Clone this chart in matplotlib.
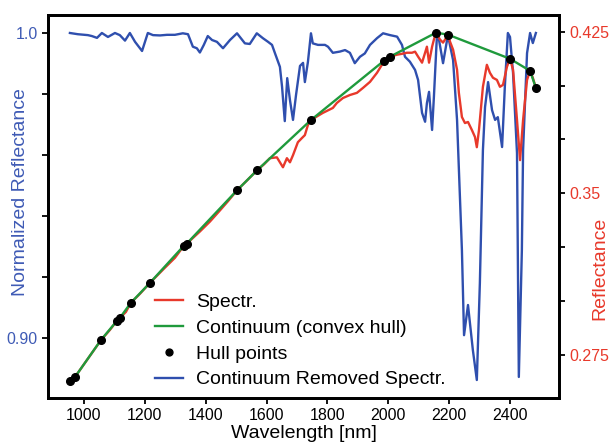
import matplotlib
matplotlib.use("Agg")
import matplotlib.pyplot as plt

# Continuum removed spectrum (left axis)
cr_wl = [954, 980, 1013, 1026, 1043, 1059, 1079, 1102, 1118, 1135, 1151, 1168, 1191, 1210,
         1227, 1250, 1273, 1299, 1325, 1342, 1358, 1371, 1381, 1394, 1407, 1421, 1437, 1457,
         1480, 1503, 1529, 1545, 1568, 1588, 1605, 1618, 1628, 1644, 1651, 1660, 1668, 1677,
         1687, 1697, 1710, 1720, 1726, 1736, 1746, 1752, 1769, 1792, 1802, 1818, 1841, 1858,
         1874, 1890, 1907, 1923, 1940, 1963, 1983, 2006, 2029, 2045, 2055, 2071, 2088, 2098,
         2111, 2121, 2127, 2134, 2144, 2150, 2160, 2163, 2180, 2196, 2213, 2226, 2242, 2249,
         2262, 2278, 2291, 2301, 2311, 2318, 2328, 2341, 2351, 2360, 2374, 2383, 2393, 2400,
         2410, 2423, 2429, 2439, 2443, 2456, 2466, 2475, 2485]
cr_val = [1.000, 0.9996, 0.9993, 0.9990, 0.9984, 1.000, 0.9987, 1.000, 0.9993, 0.9975, 1.000,
          0.9971, 0.9941, 1.000, 0.9993, 0.9992, 0.9994, 0.9994, 0.9999, 0.9996, 0.9955, 0.9950,
          0.9936, 0.9961, 0.9990, 0.9977, 0.9971, 0.9950, 0.9977, 0.9999, 0.9966, 0.9964, 0.9999,
          0.9983, 0.9971, 0.9961, 0.9933, 0.9889, 0.9824, 0.9711, 0.9852, 0.9780, 0.9715, 0.9797,
          0.9892, 0.9902, 0.9839, 0.9905, 0.9999, 0.9966, 0.9961, 0.9961, 0.9955, 0.9935, 0.9939,
          0.9944, 0.9935, 0.9901, 0.9922, 0.9933, 0.9961, 0.9983, 0.9999, 0.9993, 0.9988, 0.9961,
          0.9922, 0.9906, 0.9879, 0.9846, 0.9738, 0.9709, 0.9770, 0.9807, 0.9682, 0.9791, 0.9993,
          0.9999, 0.9901, 0.9993, 0.9911, 0.9715, 0.9288, 0.9009, 0.9108, 0.8960, 0.8862, 0.9180,
          0.9616, 0.9757, 0.9839, 0.9747, 0.9715, 0.9724, 0.9626, 0.9823, 1.000, 0.9987, 0.9869,
          0.9606, 0.8872, 0.9288, 0.9616, 0.9934, 1.000, 0.9967, 1.000]

# Spectrum (right axis)
sp_wl = [954, 970, 1056, 1085, 1108, 1118, 1138, 1154, 1184, 1217, 1266, 1299, 1329, 1338,
         1381, 1414, 1447, 1473, 1503, 1536, 1569, 1592, 1611, 1634, 1654, 1667, 1677, 1687,
         1703, 1716, 1726, 1736, 1746, 1785, 1818, 1831, 1851, 1874, 1897, 1917, 1940, 1963,
         1979, 1986, 2006, 2029, 2045, 2061, 2078, 2088, 2098, 2111, 2121, 2127, 2134, 2144,
         2150, 2157, 2170, 2180, 2193, 2196, 2203, 2213, 2226, 2232, 2242, 2252, 2262, 2275,
         2285, 2291, 2298, 2311, 2324, 2334, 2344, 2357, 2367, 2377, 2390, 2400, 2410, 2423,
         2433, 2443, 2456, 2466, 2475, 2485]
sp_val = [0.2628, 0.2647, 0.2819, 0.2866, 0.2908, 0.2922, 0.2950, 0.2992, 0.3034, 0.3085,
          0.3155, 0.3201, 0.3258, 0.3267, 0.3323, 0.3369, 0.3421, 0.3463, 0.3514, 0.3560,
          0.3607, 0.3635, 0.3663, 0.3667, 0.3621, 0.3663, 0.3644, 0.3677, 0.3737, 0.3756,
          0.3770, 0.3817, 0.3840, 0.3873, 0.3896, 0.3919, 0.3942, 0.3956, 0.3966, 0.3989,
          0.4017, 0.4059, 0.4096, 0.4115, 0.4134, 0.4143, 0.4147, 0.4152, 0.4152, 0.4157,
          0.4134, 0.4106, 0.4152, 0.4180, 0.4106, 0.4180, 0.4213, 0.4245, 0.4213, 0.4199,
          0.4227, 0.4236, 0.4203, 0.4166, 0.4073, 0.3966, 0.3854, 0.3826, 0.3831, 0.3793,
          0.3761, 0.3714, 0.3793, 0.3994, 0.4096, 0.4059, 0.4036, 0.4026, 0.3994, 0.4003,
          0.4087, 0.4124, 0.4073, 0.3840, 0.3654, 0.3840, 0.4026, 0.4068, 0.4036, 0.3989]

# Convex hull points (right axis)
hull_wl = [954, 970, 1056, 1108, 1118, 1154, 1217, 1329, 1338, 1503, 1569, 1746, 1986, 2006,
           2157, 2196, 2400, 2466, 2485]
hull_val = [0.2628, 0.2647, 0.2820, 0.2908, 0.2922, 0.2992, 0.3085, 0.3258, 0.3267, 0.3514,
            0.3607, 0.3840, 0.4115, 0.4134, 0.4245, 0.4236, 0.4124, 0.4068, 0.3989]

left_ticks = [0.90, 0.92, 0.94, 0.96, 0.98, 1.00]
left_labels = ['0.90', '', '', '', '', '1.0']
right_ticks = [0.275, 0.300, 0.325, 0.350, 0.375, 0.400, 0.425]
right_labels = ['0.275', '', '', '0.35', '', '', '0.425']
x_ticks = [1000, 1200, 1400, 1600, 1800, 2000, 2200, 2400]

BLUE = '#2f4fae'
RED = '#e8392b'
GREEN = '#1f9a3c'
LBLUE = '#3f5bb5'

plt.rcParams['font.family'] = ['Liberation Sans', 'DejaVu Sans']

fig = plt.figure(figsize=(6.12, 4.44), dpi=100)
ax1 = fig.add_axes([48/612, 46/444, 511/612, 383/444])
ax2 = ax1.twinx()

l_cr, = ax1.plot(cr_wl, cr_val, color=BLUE, lw=1.7, label='Continuum Removed Spectr.')
l_sp, = ax2.plot(sp_wl, sp_val, color=RED, lw=1.7, label='Spectr.')
l_hull, = ax2.plot(hull_wl, hull_val, color=GREEN, lw=1.7, label='Continuum (convex hull)')
l_pts, = ax2.plot(hull_wl, hull_val, 'o', color='black', ms=5.5, label='Hull points')

ax1.set_xlim(882, 2561)
ax1.set_ylim(0.8803, 1.0059)
ax2.set_ylim(0.2551, 0.4327)

ax1.set_xticks(x_ticks)
ax1.set_yticks(left_ticks)
ax1.set_yticklabels(left_labels)
ax2.set_yticks(right_ticks)
ax2.set_yticklabels(right_labels)

ax1.tick_params(axis='x', labelsize=11.5, width=1.3, length=4, colors='black')
ax1.tick_params(axis='y', labelsize=11.5, width=1.3, length=4, labelcolor=LBLUE)
ax2.tick_params(axis='y', labelsize=11.5, width=1.3, length=4, labelcolor=RED)

ax1.set_xlabel('Wavelength [nm]', fontsize=14, labelpad=1)
ax1.set_ylabel('Normalized Reflectance', fontsize=14, color=LBLUE)
ax2.set_ylabel('Reflectance', fontsize=14, color=RED)
ax1.yaxis.set_label_coords(-0.037, 0.538)
ax2.yaxis.set_label_coords(1.063, 0.339)

for ax in (ax1, ax2):
    for s in ax.spines.values():
        s.set_linewidth(2.0)

handles = [l_sp, l_hull, l_pts, l_cr]
ax2.legend(handles=handles, labels=[h.get_label() for h in handles], loc='lower left',
           bbox_to_anchor=(0.209, 0.025), frameon=False, fontsize=14, handlelength=1.45,
           handletextpad=0.68, labelspacing=0.42, borderpad=0, borderaxespad=0,
           markerscale=0.9)

fig.savefig('out.png', dpi=100)
